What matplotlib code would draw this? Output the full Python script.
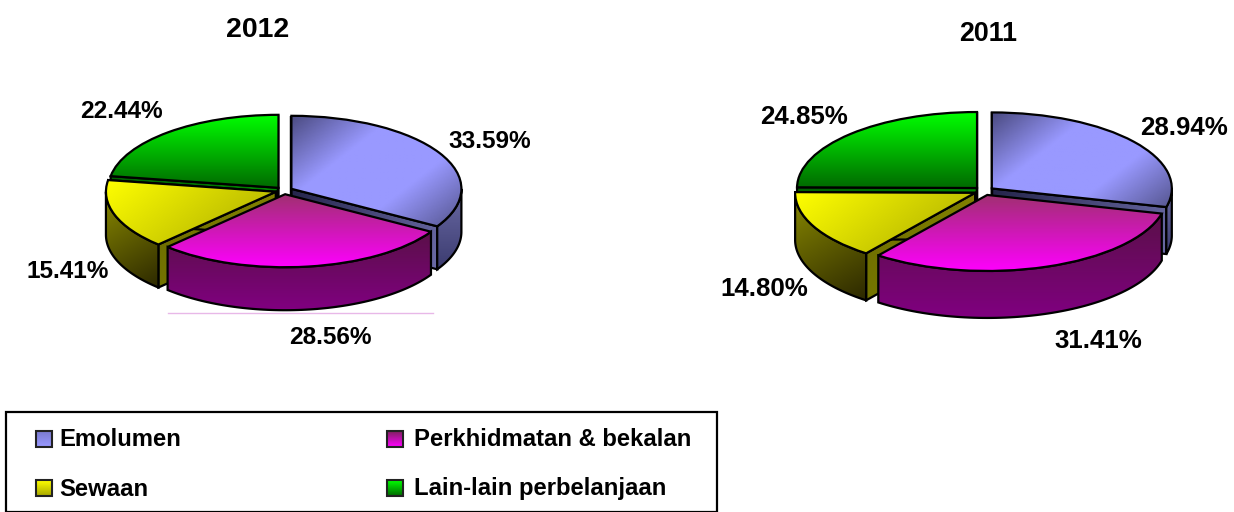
import numpy as np
import matplotlib
matplotlib.use('Agg')
import matplotlib.pyplot as plt
from matplotlib.colors import LinearSegmentedColormap
from matplotlib.patches import Polygon, Rectangle

plt.rcParams['font.family'] = ['Liberation Sans', 'DejaVu Sans']
plt.rcParams['font.weight'] = 'bold'

# Data
categories = ['Emolumen', 'Perkhidmatan & bekalan', 'Sewaan', 'Lain-lain perbelanjaan']
values_2012 = [33.59, 28.56, 15.41, 22.44]
values_2011 = [28.94, 31.41, 14.80, 24.85]
titles = ['2012', '2011']

W, H = 1234, 512

# gradient colours and direction per slice: top face, outer wall, cut wall
top_cols = [['#4a4a80', '#9999ff', '#9999ff', '#55558f'],
            ['#a03070', '#ff00ff'],
            ['#ffff00', '#a8a800'],
            ['#00ff00', '#006a00']]
top_dirs = [(1, -0.55), (0, -1), (0.9, -0.5), (0, -1)]
side_cols = [['#6a6aa5', '#3c3c70'],
             ['#5a1048', '#800080'],
             ['#8a8a00', '#2c2800'],
             ['#008000', '#004000']]
side_dirs = [(0, -1), (0, -1), (0.8, -0.6), (0, -1)]
cut_cols = [['#24244a', '#6a6aa5'], None, ['#6a6a00', '#8a8a00'], ['#006000', '#009000']]
draw_order = [3, 0, 2, 1]


def shade(ax, patch, colors, direction, z):
    # gradient image clipped to the patch
    v = patch.get_path().vertices if not isinstance(patch, Polygon) else patch.get_xy()
    x0, y0 = v.min(axis=0)
    x1, y1 = v.max(axis=0)
    xx, yy = np.meshgrid(np.linspace(0, 1, 150), np.linspace(0, 1, 150))
    t = xx * direction[0] * (x1 - x0) + yy * direction[1] * (y1 - y0)
    cmap = LinearSegmentedColormap.from_list('g', colors)
    im = ax.imshow(t, extent=(x0, x1, y0, y1), origin='lower', cmap=cmap,
                   aspect='auto', interpolation='bilinear', zorder=z)
    im.set_clip_path(patch)


def pie3d(values, cx, cy, rx, ry, depth, explode):
    xmax, ymin, ymax = 1.3, -1.9, 1.3
    ax = fig.add_axes([(cx - xmax * rx) / W, (H - cy + ymin * ry) / H,
                       2 * xmax * rx / W, (ymax - ymin) * ry / H])
    wedges, _ = ax.pie(values, startangle=90, counterclock=False,
                       explode=[explode] * len(values),
                       wedgeprops={'fc': 'none', 'ec': 'k', 'lw': 1.6})
    d = depth / ry
    for n, i in enumerate(draw_order):
        w = wedges[i]
        z = 2 + n
        c = np.array(w.center)
        t1, t2 = w.theta1, w.theta2
        # walls along both cuts, the hidden one gets covered by the top face
        if cut_cols[i] is not None:
            for k, ang in enumerate([t1, t2]):
                a = np.radians(ang)
                p = c + [np.cos(a), np.sin(a)]
                cut = Polygon([c, p, p - [0, d], c - [0, d]], closed=True,
                              fc='none', ec='k', lw=1.6, zorder=z + 0.2)
                ax.add_patch(cut)
                shade(ax, cut, cut_cols[i], (1, -0.2), z + 0.1)
        # outer wall, only the part facing the viewer
        lo, hi = max(t1, -180), min(t2, 0)
        if lo < hi:
            th = np.radians(np.linspace(lo, hi, 80))
            arc = np.column_stack([c[0] + np.cos(th), c[1] + np.sin(th)])
            wall = Polygon(np.vstack([arc, (arc - [0, d])[::-1]]), closed=True,
                           fc='none', ec='k', lw=1.6, zorder=z + 0.4)
            ax.add_patch(wall)
            shade(ax, wall, side_cols[i], side_dirs[i], z + 0.3)
        # top face
        w.set_zorder(z + 0.7)
        shade(ax, w, top_cols[i], top_dirs[i], z + 0.6)
    ax.set_aspect('auto')
    ax.set_xlim(-xmax, xmax)
    ax.set_ylim(ymin, ymax)
    ax.axis('off')


fig = plt.figure(figsize=(W / 100, H / 100), dpi=100, facecolor='white')

pie3d(values_2012, 284, 190.6, 170, 73, 43, 0.05)
pie3d(values_2011, 984, 191, 180, 76, 47, 0.055)

# overlay in pixel coordinates for titles, labels and legend
ov = fig.add_axes([0, 0, 1, 1], facecolor='none')

ov.text(258, 30, titles[0], fontsize=20.5, ha='center', va='center')
ov.text(988, 34, titles[1], fontsize=19.3, ha='center', va='center')

pos_2012 = [(490, 142), (330, 338), (68, 272), (121, 112)]
pos_2011 = [(1184, 128), (1098, 341), (764, 289), (804, 117)]
for v, p in zip(values_2012, pos_2012):
    ov.text(p[0], p[1], '%.2f%%' % v, fontsize=17.6, ha='center', va='center')
for v, p in zip(values_2011, pos_2011):
    ov.text(p[0], p[1], '%.2f%%' % v, fontsize=18.6, ha='center', va='center')

# faint line under the 2012 pie
ov.plot([168, 433], [312.5, 312.5], color='#e8b8e8', lw=1)

# legend
ov.add_patch(Rectangle((5.5, 411.5), 711, 100, fc='none', ec='k', lw=1.6))
leg_pos = [(36, 439), (387, 439), (36, 488), (387, 488)]
txt_off = [23, 27, 23, 27]
leg_cols = [['#7a7ad0', '#9999ff'], ['#802060', '#ff00ff'],
            ['#ffff00', '#a8a800'], ['#00ff00', '#006a00']]
for name, p, off, cols in zip(categories, leg_pos, txt_off, leg_cols):
    box = Rectangle((p[0], p[1] - 8), 16, 16, fc='none', ec='#222222', lw=1.5, zorder=3)
    ov.add_patch(box)
    g = np.linspace(0, 1, 32).reshape(-1, 1)
    ov.imshow(g, extent=(p[0], p[0] + 16, p[1] + 8, p[1] - 8), origin='upper',
              cmap=LinearSegmentedColormap.from_list('l', cols), aspect='auto', zorder=2)
    ov.text(p[0] + off, p[1] + 1, name, fontsize=17.2, ha='left', va='center')

ov.set_xlim(0, W)
ov.set_ylim(H, 0)
ov.axis('off')

fig.savefig('out.png', dpi=100)
